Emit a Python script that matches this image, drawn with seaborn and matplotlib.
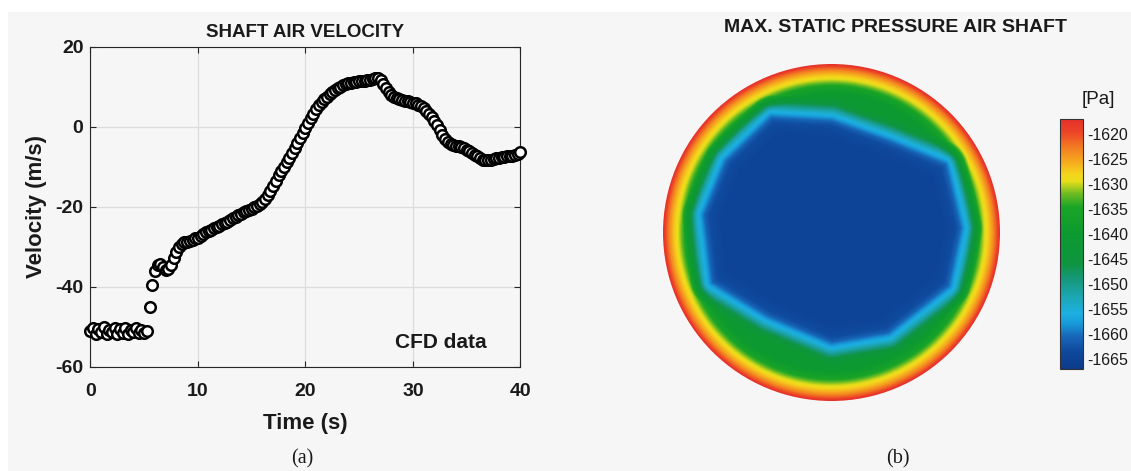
import numpy as np
import pandas as pd
import matplotlib
matplotlib.use("Agg")
import matplotlib.pyplot as plt
import seaborn as sns
from matplotlib.colors import LinearSegmentedColormap, Normalize
from matplotlib.path import Path
from matplotlib.patches import Circle, Rectangle

# ---------------- shaft air velocity (CFD samples every 0.25 s) ----------------
sample_step_s = 0.25
velocity_ms = [
    -51.0, -50.2, -51.8, -50.6, -51.4, -50.1, -51.9, -50.8, -51.2, -50.3,
    -51.7, -50.5, -51.5, -50.2, -51.8, -50.7, -51.3, -50.4, -51.6, -50.9,
    -51.5, -51.0, -45.0, -39.5, -36.0, -34.6, -34.3, -35.0, -35.8, -35.6,
    -34.5, -32.8, -31.2, -30.0, -29.2, -28.9, -28.7, -28.5, -28.2, -27.9,
    -27.7, -27.3, -26.9, -26.4, -26.0, -25.7, -25.4, -25.1, -24.8, -24.4,
    -24.0, -23.7, -23.3, -22.9, -22.5, -22.1, -21.8, -21.4, -21.1, -20.8,
    -20.5, -20.1, -19.8, -19.4, -18.8, -18.0, -17.1, -16.1, -14.8, -13.5,
    -12.1, -11.0, -10.0, -8.9, -7.7, -6.5, -5.3, -4.1, -2.8, -1.6,
    -0.3, 0.9, 2.1, 3.2, 4.3, 5.3, 6.2, 6.9, 7.5, 8.1,
    8.6, 9.1, 9.6, 10.0, 10.3, 10.6, 10.9, 11.0, 11.1, 11.2,
    11.3, 11.4, 11.5, 11.6, 11.7, 11.9, 12.1, 12.2, 11.7, 10.6,
    9.6, 8.7, 8.0, 7.5, 7.1, 6.9, 6.7, 6.5, 6.4, 6.2,
    6.0, 5.8, 5.5, 5.1, 4.6, 3.9, 3.2, 2.4, 1.4, 0.3,
    -0.9, -2.0, -3.0, -3.8, -4.3, -4.6, -4.8, -4.9, -5.0, -5.3,
    -5.7, -6.1, -6.6, -7.0, -7.4, -7.8, -8.2, -8.4, -8.4, -8.2,
    -8.0, -7.9, -7.7, -7.6, -7.5, -7.4, -7.3, -7.2, -7.0, -6.7,
    -6.4,
]
time_s = np.arange(len(velocity_ms)) * sample_step_s
time_ticks = [0, 10, 20, 30, 40]
velocity_ticks = [-60, -40, -20, 0, 20]

# ---------------- max. static pressure over the shaft section ----------------
# low-pressure core outline (fraction of shaft radius, y up)
core_x = [-0.355, 0.001, 0.335, 0.674, 0.763, 0.691, 0.335, 0.001, -0.377, -0.703, -0.751, -0.622]
core_y = [0.678, 0.658, 0.539, 0.401, 0.027, -0.312, -0.591, -0.648, -0.490, -0.292, 0.104, 0.420]
# pressure vs depth from the shaft wall (fraction of radius)
wall_depth = [0.0, 0.018, 0.036, 0.055, 0.080, 0.100, 0.122, 0.152, 0.195]
wall_pa = [-1617, -1620.5, -1623.5, -1626, -1628.8, -1631, -1634, -1638, -1641]
# pressure vs signed distance from the core outline (negative inside)
core_offset = [-0.085, -0.024, 0.0, 0.024, 0.047, 0.071, 0.100, 0.140]
core_pa = [-1664.5, -1663.2, -1661, -1658, -1655, -1651, -1646, -1641]
plateau_pa = -1641
pressure_ticks = [-1665, -1660, -1655, -1650, -1645, -1640, -1635, -1630, -1625, -1620]
pressure_range = (-1667, -1617)

pressure_colors = [
    (-1667, "#0c3a8a"), (-1663.5, "#0f4a9e"), (-1660.5, "#1766b8"),
    (-1658, "#189ad8"), (-1656, "#1cb0e2"), (-1652.5, "#1ca6b2"),
    (-1649, "#16987a"), (-1646, "#0f9540"), (-1640, "#0c9a30"),
    (-1634.5, "#1aa526"), (-1632, "#6bbb22"), (-1629.5, "#e6de1a"),
    (-1628, "#f5d61c"), (-1625, "#f5a21f"), (-1622, "#f27023"),
    (-1619.5, "#ec4527"), (-1617, "#e6302a"),
]

# ---------------- style ----------------
sns.set_style("ticks")
plt.rcParams["font.family"] = ["Liberation Sans", "DejaVu Sans"]
plt.rcParams["axes.unicode_minus"] = False
bg = "#f6f6f6"

fig = plt.figure(figsize=(11.31, 4.71), dpi=100, facecolor=bg)
# white page margins
fig.patches.append(Rectangle((0, 1 - 12 / 471), 1, 12 / 471, transform=fig.transFigure,
                             facecolor="white", edgecolor="none", zorder=0))
fig.patches.append(Rectangle((0, 0), 8 / 1131, 1, transform=fig.transFigure,
                             facecolor="white", edgecolor="none", zorder=0))

# ---------------- (a) velocity scatter ----------------
ax = fig.add_axes([90.4 / 1131, 1 - 366.7 / 471, 430 / 1131, 320 / 471], facecolor=bg)
df = pd.DataFrame({"time": time_s, "velocity": velocity_ms})
sns.scatterplot(data=df, x="time", y="velocity", ax=ax, marker="o", s=58,
                color="white", edgecolor="black", linewidth=1.8, legend=False,
                zorder=3, clip_on=False)
ax.set_xlim(0, 40)
ax.set_ylim(-60, 20)
ax.set_xticks(time_ticks)
ax.set_yticks(velocity_ticks)
ax.grid(True, color="#dcdcdc", linewidth=0.9)
ax.set_axisbelow(True)
for s in ax.spines.values():
    s.set_visible(True)
    s.set_color("#262626")
    s.set_linewidth(0.8)
ax.tick_params(direction="in", length=4, width=0.8, top=True, right=True,
               labelsize=14, colors="#262626", labelcolor="#1a1a1a")
ax.tick_params(axis="x", pad=12)
ax.tick_params(axis="y", pad=5)
for lab in ax.get_xticklabels() + ax.get_yticklabels():
    lab.set_fontweight("bold")
ax.set_xlabel("Time (s)", fontsize=16, fontweight="bold", color="#1a1a1a", labelpad=9)
ax.set_ylabel("Velocity (m/s)", fontsize=16, fontweight="bold", color="#1a1a1a", labelpad=6)
ax.set_title("SHAFT AIR VELOCITY", fontsize=13.5, fontweight="bold", color="#1a1a1a", pad=7)
ax.text(0.815, 0.077, "CFD data", transform=ax.transAxes, ha="center", va="center",
        fontsize=15, fontweight="bold", color="#1a1a1a")

# ---------------- (b) pressure disc ----------------
n = 500
g = np.linspace(-1, 1, n)
gx, gy = np.meshgrid(g, g)
r = np.hypot(gx, gy)
pts = np.column_stack([gx.ravel(), gy.ravel()])

vx = np.array(core_x)
vy = np.array(core_y)
ex = np.roll(vx, -1) - vx
ey = np.roll(vy, -1) - vy
dist = np.full(pts.shape[0], np.inf)
for k in range(len(vx)):
    t = ((pts[:, 0] - vx[k]) * ex[k] + (pts[:, 1] - vy[k]) * ey[k]) / (ex[k] ** 2 + ey[k] ** 2)
    t = np.clip(t, 0, 1)
    d = np.hypot(pts[:, 0] - (vx[k] + t * ex[k]), pts[:, 1] - (vy[k] + t * ey[k]))
    dist = np.minimum(dist, d)
inside = Path(np.column_stack([vx, vy])).contains_points(pts)
signed = np.where(inside, -dist, dist).reshape(gx.shape)

field = (np.interp(1 - r, wall_depth, wall_pa)
         + np.interp(signed, core_offset, core_pa) - plateau_pa)
field = np.where(r <= 1.01, field, np.nan)

cmap = LinearSegmentedColormap.from_list(
    "shaft_pressure",
    [((v - pressure_range[0]) / (pressure_range[1] - pressure_range[0]), c) for v, c in pressure_colors])
cmap.set_bad((0, 0, 0, 0))
norm = Normalize(*pressure_range)

axd = fig.add_axes([663 / 1131, 1 - 401 / 471, 337 / 1131, 337 / 471])
im = axd.imshow(field, origin="lower", extent=[-1, 1, -1, 1], cmap=cmap, norm=norm,
                interpolation="bilinear")
disc = Circle((0, 0), 1, transform=axd.transData)
im.set_clip_path(disc)
axd.set_xlim(-1, 1)
axd.set_ylim(-1, 1)
axd.set_aspect("equal")
axd.axis("off")

cax = fig.add_axes([1060 / 1131, 1 - 369 / 471, 23 / 1131, 250 / 471])
cb = fig.colorbar(im, cax=cax, ticks=pressure_ticks)
cb.outline.set_linewidth(0.8)
cb.outline.set_edgecolor("#333333")
cax.tick_params(length=0, labelsize=11.5, pad=3, labelcolor="#1a1a1a")
fig.text(1098 / 1131, 1 - 99 / 471, "[Pa]", ha="center", va="center", fontsize=13.5, color="#1a1a1a")

fig.text(895 / 1131, 1 - 28 / 471, "MAX. STATIC PRESSURE AIR SHAFT", ha="center", va="center",
         fontsize=14, fontweight="bold", color="#1a1a1a")

# panel captions
fig.text(302 / 1131, 1 - 459 / 471, "(a)", ha="center", va="center", fontsize=14.5,
         family="Liberation Serif", color="#1a1a1a")
fig.text(898 / 1131, 1 - 459 / 471, "(b)", ha="center", va="center", fontsize=14.5,
         family="Liberation Serif", color="#1a1a1a")

fig.savefig("out.png", dpi=100, facecolor=bg)
